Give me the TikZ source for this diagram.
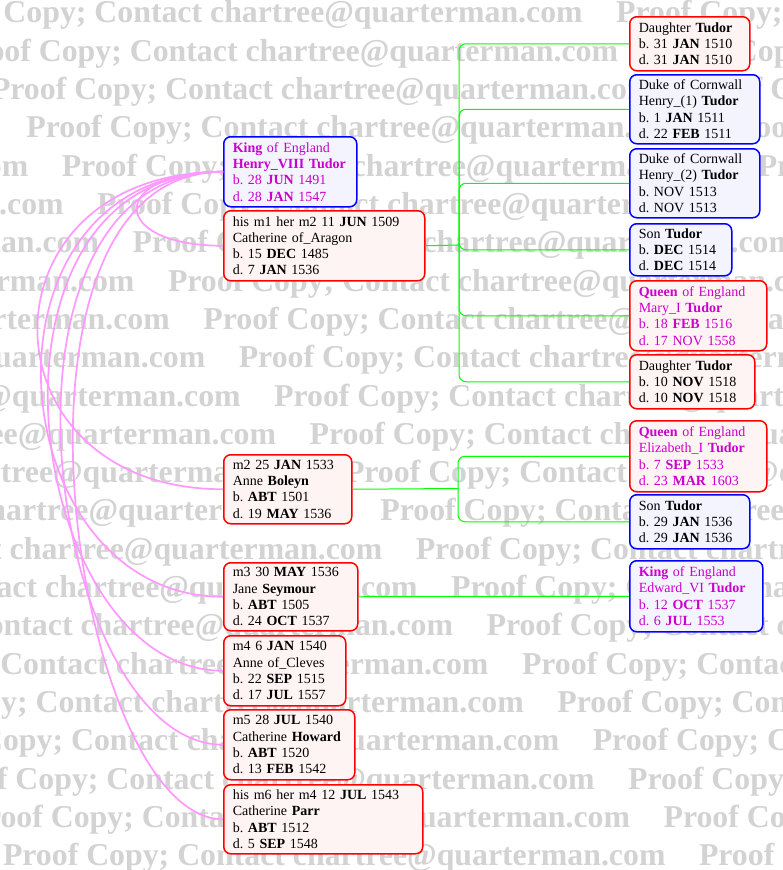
\documentclass[tikz,border=0pt]{standalone}
\usepackage{fontspec}
\setmainfont{Liberation Serif}
\frenchspacing
\definecolor{wmgray}{RGB}{211,211,211}
\definecolor{mfill}{RGB}{244,244,255}
\definecolor{ffill}{RGB}{255,244,244}
\definecolor{mag}{RGB}{204,0,204}
\definecolor{pinkc}{RGB}{255,153,255}
\definecolor{grn}{RGB}{0,255,0}
\newcommand\bxfont{\fontsize{14}{16.3}\selectfont\frenchspacing}
\newcommand\wmfont{\fontsize{31.8}{32}\selectfont\bfseries}
\tikzset{
  wm/.style={anchor=base west, inner sep=0pt, text=wmgray, font=\wmfont},
  pbox/.style={draw, rounded corners=7pt, line width=1.5pt, anchor=north west,
    inner xsep=9pt, inner ysep=0pt, align=left, font=\bxfont},
  mbox/.style={pbox, draw=blue, fill=mfill},
  fbox/.style={pbox, draw=red, fill=ffill},
  pinkline/.style={draw=pinkc, line width=1.7pt},
  gline/.style={draw=grn, line width=1pt},
}
\begin{document}
\begin{tikzpicture}[x=1pt,y=-1pt]
\useasboundingbox (0,0) rectangle (783,870);
\fill[white] (0,0) rectangle (783,870);
% watermark
\begin{scope}
\clip (0,0) rectangle (783,870);
\foreach \k in {0,...,22}{
  \pgfmathsetmacro\xo{mod(-80+35.4*\k+1392,696)-696}
  \foreach \r in {0,1,2}{
    \node[wm] (wm-\k-\r) at (\xo+696*\r, 23+38.3*\k) {Proof Copy; Contact chartree@quarterman.com};
  }
}
\end{scope}

% boxes
\node[mbox, text=mag, text width=115pt, minimum height=70pt] (h8) at (223,136)
  {\textbf{King} of England\\\textbf{Henry\_VIII Tudor}\\b. 28 \textbf{JUN} 1491\\d. 28 \textbf{JAN} 1547};
\node[fbox, text width=183pt, minimum height=70pt] (arag) at (223,210)
  {his m1 her m2 11 \textbf{JUN} 1509\\Catherine of\_Aragon\\b. 15 \textbf{DEC} 1485\\d. 7 \textbf{JAN} 1536};
\node[fbox, text width=110pt, minimum height=69pt] (bol) at (223,454)
  {m2 25 \textbf{JAN} 1533\\Anne \textbf{Boleyn}\\b. \textbf{ABT} 1501\\d. 19 \textbf{MAY} 1536};
\node[fbox, text width=116pt, minimum height=68pt] (sey) at (223,562)
  {m3 30 \textbf{MAY} 1536\\Jane \textbf{Seymour}\\b. \textbf{ABT} 1505\\d. 24 \textbf{OCT} 1537};
\node[fbox, text width=104pt, minimum height=70pt] (clev) at (223,635)
  {m4 6 \textbf{JAN} 1540\\Anne of\_Cleves\\b. 22 \textbf{SEP} 1515\\d. 17 \textbf{JUL} 1557};
\node[fbox, text width=113pt, minimum height=70pt] (how) at (223,709)
  {m5 28 \textbf{JUL} 1540\\Catherine \textbf{Howard}\\b. \textbf{ABT} 1520\\d. 13 \textbf{FEB} 1542};
\node[fbox, text width=181pt, minimum height=69pt] (parr) at (223,784)
  {his m6 her m4 12 \textbf{JUL} 1543\\Catherine \textbf{Parr}\\b. \textbf{ABT} 1512\\d. 5 \textbf{SEP} 1548};

\node[fbox, text width=102pt, minimum height=54pt] (dau1) at (629,16)
  {Daughter \textbf{Tudor}\\b. 31 \textbf{JAN} 1510\\d. 31 \textbf{JAN} 1510};
\node[mbox, text width=112pt, minimum height=69pt] (duk1) at (629,74)
  {Duke of Cornwall\\Henry\_(1) \textbf{Tudor}\\b. 1 \textbf{JAN} 1511\\d. 22 \textbf{FEB} 1511};
\node[mbox, text width=112pt, minimum height=69pt] (duk2) at (629,148)
  {Duke of Cornwall\\Henry\_(2) \textbf{Tudor}\\b. NOV 1513\\d. NOV 1513};
\node[mbox, text width=84pt, minimum height=52pt] (son1) at (629,223)
  {Son \textbf{Tudor}\\b. \textbf{DEC} 1514\\d. \textbf{DEC} 1514};
\node[fbox, text=mag, text width=119pt, minimum height=70pt] (mary) at (629,280)
  {\textbf{Queen} of England\\Mary\_I \textbf{Tudor}\\b. 18 \textbf{FEB} 1516\\d. 17 NOV 1558};
\node[fbox, text width=107pt, minimum height=54pt] (dau2) at (629,354)
  {Daughter \textbf{Tudor}\\b. 10 \textbf{NOV} 1518\\d. 10 \textbf{NOV} 1518};
\node[fbox, text=mag, text width=119pt, minimum height=71pt] (eliz) at (629,420)
  {\textbf{Queen} of England\\Elizabeth\_I \textbf{Tudor}\\b. 7 \textbf{SEP} 1533\\d. 23 \textbf{MAR} 1603};
\node[mbox, text width=102pt, minimum height=54pt] (son2) at (629,494)
  {Son \textbf{Tudor}\\b. 29 \textbf{JAN} 1536\\d. 29 \textbf{JAN} 1536};
\node[mbox, text=mag, text width=115pt, minimum height=71pt] (edw) at (629,560)
  {\textbf{King} of England\\Edward\_VI \textbf{Tudor}\\b. 12 \textbf{OCT} 1537\\d. 6 \textbf{JUL} 1553};

% marriage curves
\draw[pinkline] (h8.west) .. controls +(-115,0) and +(-115,0) .. (arag.west);
\draw[pinkline] (h8.west) .. controls +(-250,0) and +(-245,0) .. (bol.west);
\draw[pinkline] (h8.west) .. controls +(-260,0) and +(-225,0) .. (sey.west);
\draw[pinkline] (h8.west) .. controls +(-265,0) and +(-200,0) .. (clev.west);
\draw[pinkline] (h8.west) .. controls +(-255,0) and +(-175,0) .. (how.west);
\draw[pinkline] (h8.west) .. controls +(-245,0) and +(-150,0) .. (parr.west);

% child lines
\coordinate (jA) at (459,245);
\coordinate (jB) at (458,488.5);
\draw[gline] (arag.east) -- (jA);
\foreach \c in {dau1,duk1,duk2,son1,mary,dau2}{
  \draw[gline, rounded corners=7pt] (jA) |- (\c.west);
}
\draw[gline] (bol.east) -- (jB);
\foreach \c in {eliz,son2}{
  \draw[gline, rounded corners=7pt] (jB) |- (\c.west);
}
\draw[gline] (sey.east) -- (edw.west);
\end{tikzpicture}
\end{document}
